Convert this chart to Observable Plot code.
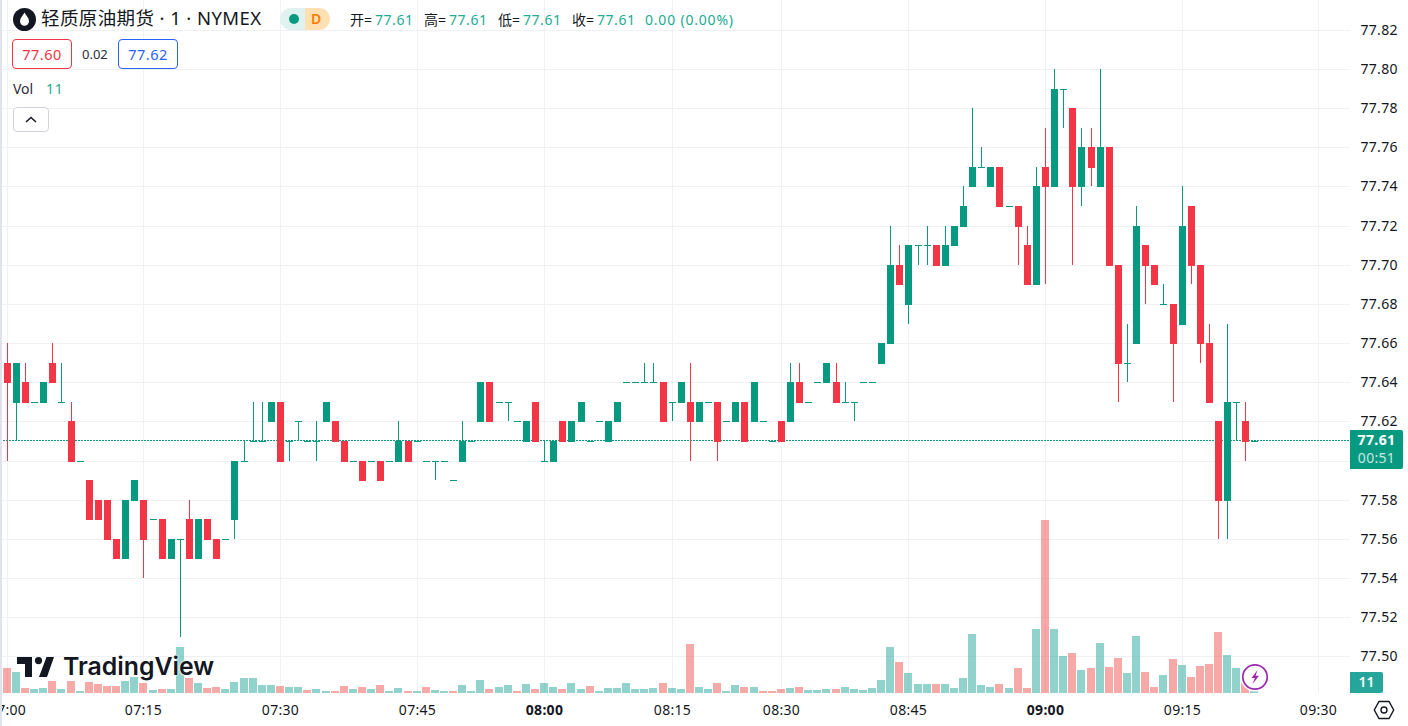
<!DOCTYPE html>
<html>
<head>
<meta charset="utf-8">
<script src="https://cdn.jsdelivr.net/npm/d3@7"></script>
<script src="https://cdn.jsdelivr.net/npm/@observablehq/plot@0.6"></script>
<style>
html,body{margin:0;padding:0;background:#fff;overflow:hidden}
#wrap{position:relative;width:1408px;height:726px;overflow:hidden;font-family:"Noto Sans","Noto Sans CJK SC",sans-serif;color:#131722}
#wrap svg.plot-layer{position:absolute;left:0;top:0}
#wrap svg.plot-layer text{letter-spacing:.3px}
.a{position:absolute;white-space:nowrap;line-height:1}
.s{letter-spacing:.55px}
.g{color:#22ab94}
.box{position:absolute;box-sizing:border-box;border-radius:4px;background:#fff;text-align:center;font-size:14.5px;letter-spacing:.5px}
</style>
</head>
<body>
<div id="wrap"></div>
<script>
const opens = [77.65,77.63,77.64,77.63,77.63,77.65,77.63,77.62,77.60,77.59,77.58,77.58,77.56,77.55,77.58,77.58,77.57,77.57,77.55,77.56,77.57,77.55,77.57,77.56,77.56,77.57,77.60,77.61,77.61,77.62,77.63,77.61,77.62,77.61,77.61,77.62,77.62,77.61,77.60,77.60,77.60,77.60,77.60,77.60,77.61,77.61,77.60,77.60,77.60,77.59,77.60,77.61,77.62,77.64,77.63,77.63,77.62,77.61,77.63,77.60,77.60,77.62,77.61,77.62,77.61,77.62,77.61,77.62,77.64,77.64,77.64,77.64,77.64,77.63,77.63,77.63,77.62,77.63,77.63,77.62,77.62,77.63,77.62,77.62,77.61,77.62,77.62,77.64,77.63,77.64,77.64,77.64,77.63,77.63,77.64,77.64,77.65,77.66,77.70,77.68,77.71,77.71,77.71,77.70,77.71,77.72,77.74,77.75,77.74,77.75,77.73,77.73,77.71,77.69,77.75,77.74,77.79,77.78,77.74,77.76,77.74,77.76,77.70,77.65,77.66,77.71,77.70,77.68,77.68,77.67,77.73,77.70,77.66,77.62,77.58,77.63,77.62,77.61];
const highs = [77.66,77.65,77.65,77.63,77.64,77.66,77.65,77.63,77.60,77.59,77.58,77.58,77.56,77.58,77.59,77.58,77.57,77.57,77.56,77.56,77.58,77.57,77.57,77.56,77.56,77.60,77.61,77.63,77.63,77.63,77.63,77.61,77.62,77.61,77.62,77.63,77.62,77.61,77.60,77.60,77.60,77.60,77.60,77.62,77.61,77.61,77.60,77.60,77.60,77.59,77.62,77.61,77.64,77.64,77.63,77.63,77.62,77.62,77.63,77.61,77.61,77.62,77.62,77.63,77.61,77.62,77.62,77.63,77.64,77.64,77.65,77.65,77.64,77.63,77.64,77.65,77.63,77.63,77.63,77.62,77.63,77.63,77.64,77.62,77.61,77.62,77.65,77.65,77.63,77.64,77.65,77.65,77.64,77.63,77.64,77.64,77.66,77.72,77.71,77.71,77.71,77.72,77.71,77.72,77.72,77.74,77.78,77.76,77.75,77.75,77.73,77.73,77.72,77.75,77.77,77.80,77.79,77.78,77.77,77.77,77.80,77.76,77.70,77.67,77.73,77.71,77.70,77.69,77.68,77.74,77.73,77.70,77.67,77.62,77.67,77.63,77.63,77.61];
const lows = [77.60,77.61,77.63,77.63,77.63,77.64,77.63,77.60,77.60,77.57,77.57,77.56,77.55,77.55,77.58,77.54,77.57,77.55,77.55,77.51,77.55,77.55,77.56,77.55,77.56,77.56,77.60,77.61,77.61,77.62,77.60,77.60,77.61,77.61,77.60,77.62,77.61,77.60,77.60,77.59,77.60,77.59,77.60,77.60,77.60,77.61,77.60,77.59,77.60,77.59,77.60,77.61,77.62,77.62,77.63,77.62,77.62,77.61,77.61,77.60,77.60,77.61,77.61,77.62,77.61,77.62,77.61,77.62,77.64,77.64,77.64,77.64,77.62,77.62,77.63,77.60,77.62,77.63,77.60,77.62,77.62,77.61,77.62,77.62,77.61,77.61,77.62,77.63,77.63,77.64,77.64,77.63,77.63,77.62,77.64,77.64,77.65,77.66,77.69,77.67,77.70,77.70,77.70,77.70,77.71,77.72,77.74,77.75,77.74,77.73,77.73,77.70,77.69,77.69,77.69,77.74,77.77,77.70,77.73,77.74,77.74,77.70,77.63,77.64,77.66,77.68,77.69,77.68,77.63,77.67,77.69,77.65,77.63,77.56,77.56,77.61,77.60,77.61];
const closes = [77.64,77.65,77.63,77.63,77.64,77.64,77.63,77.60,77.60,77.57,77.57,77.56,77.55,77.58,77.59,77.56,77.57,77.55,77.56,77.56,77.55,77.57,77.56,77.55,77.56,77.60,77.60,77.61,77.61,77.63,77.60,77.61,77.62,77.61,77.61,77.63,77.61,77.60,77.60,77.59,77.60,77.59,77.60,77.61,77.60,77.61,77.60,77.60,77.60,77.59,77.61,77.61,77.64,77.62,77.63,77.63,77.62,77.62,77.61,77.60,77.61,77.61,77.62,77.63,77.61,77.62,77.62,77.63,77.64,77.64,77.64,77.64,77.62,77.63,77.64,77.62,77.63,77.63,77.61,77.62,77.63,77.61,77.64,77.62,77.61,77.61,77.64,77.63,77.63,77.64,77.65,77.63,77.63,77.63,77.64,77.64,77.66,77.70,77.69,77.71,77.71,77.71,77.70,77.71,77.72,77.73,77.75,77.75,77.75,77.73,77.73,77.72,77.69,77.74,77.74,77.79,77.79,77.74,77.76,77.75,77.76,77.70,77.65,77.65,77.72,77.70,77.69,77.68,77.66,77.72,77.70,77.66,77.63,77.58,77.63,77.63,77.61,77.61];
const volumes = [100,84,20,16,20,48,16,48,8,44,36,28,28,48,64,40,12,16,16,184,60,40,20,24,16,44,60,60,32,32,28,24,24,12,16,8,8,28,16,24,16,32,8,20,8,8,24,12,8,8,32,8,52,16,24,32,8,36,16,40,24,16,40,16,28,8,20,20,40,16,16,20,40,20,16,196,24,16,40,8,32,24,24,8,8,16,20,24,12,12,16,16,24,16,12,20,52,184,124,80,36,36,36,36,20,60,236,32,24,36,20,100,20,256,692,256,148,160,92,100,200,104,140,80,228,84,24,72,136,112,64,108,116,244,152,100,40,11];
const redVolumeBars = [0,2,5,7,9,10,11,12,15,17,20,22,23,30,33,36,37,39,41,44,46,49,53,56,58,61,64,72,75,78,81,83,84,85,87,91,98,102,109,111,112,114,117,119,121,122,125,126,128,130,131,132,133,136];
const priceTicks = [77.50,77.52,77.54,77.56,77.58,77.60,77.62,77.64,77.66,77.68,77.70,77.72,77.74,77.76,77.78,77.80,77.82];
const priceTickHiddenByTag = 77.60;
const timeTickBars = [0,15,30,45,59,73,85,99,114,129,144];
const timeTickLabels = ["07:00","07:15","07:30","07:45","08:00","08:15","08:30","08:45","09:00","09:15","09:30"];
const boldTimeBars = [59,114];
const lastPrice = 77.61;

const GREEN="#089981", RED="#F23645", FONT='"Noto Sans","Noto Sans CJK SC",sans-serif';
const bars = opens.map((o,i)=>({i,o,h:highs[i],l:lows[i],c:closes[i],v:volumes[i],red:redVolumeBars.includes(i)}));
const xScale = {domain:[-0.7467,147.49],range:[0,1350],round:true,axis:null};
const candleColor = d => d.c>=d.o ? GREEN : RED;
const timeLabel = i => timeTickLabels[timeTickBars.indexOf(i)];
const axisCommon = {anchor:"bottom",tickSize:0,tickPadding:12,label:null,tickFormat:timeLabel,fontSize:14,fill:"#131722"};

const main = Plot.plot({
  width:1408,height:726,marginLeft:0,marginRight:58,marginTop:0,marginBottom:33,
  style:{background:"transparent",fontFamily:FONT,overflow:"hidden"},
  x:xScale,
  y:{domain:[77.4813,77.83524],range:[693,0],round:true,axis:null},
  color:{type:"identity"},
  marks:[
    Plot.gridX(timeTickBars,{stroke:"#f0f1f4",strokeOpacity:1,strokeWidth:1}),
    Plot.gridY(priceTicks,{stroke:"#f0f1f4",strokeOpacity:1,strokeWidth:1}),
    Plot.ruleY([lastPrice],{stroke:GREEN,strokeWidth:1,strokeDasharray:"2,1",dy:-1}),
    Plot.ruleX(bars,{x:"i",y1:"h",y2:"l",stroke:candleColor,strokeWidth:1}),
    Plot.ruleX(bars,{x:"i",y1:d=>Math.max(d.o,d.c),y2:d=>Math.min(d.o,d.c),insetBottom:-1,stroke:candleColor,strokeWidth:7}),
    Plot.axisY(priceTicks.filter(p=>p!==priceTickHiddenByTag),{anchor:"right",tickSize:0,tickPadding:10,label:null,tickFormat:d=>d.toFixed(2),fontSize:14,fill:"#131722"}),
    Plot.axisX(timeTickBars.filter(b=>!boldTimeBars.includes(b)),axisCommon),
    Plot.axisX(boldTimeBars,{...axisCommon,fontWeight:"bold"})
  ]
});
const vol = Plot.plot({
  width:1408,height:726,marginLeft:0,marginRight:58,marginTop:520,marginBottom:33,
  style:{background:"transparent",fontFamily:FONT},
  x:xScale,
  y:{domain:[0,692],axis:null},
  color:{type:"identity"},
  marks:[
    Plot.ruleX(bars,{x:"i",y1:0,y2:"v",dx:-0.5,stroke:d=>d.red?"#ef5350":"#26a69a",strokeOpacity:0.5,strokeWidth:8})
  ]
});
main.classList.add("plot-layer"); vol.classList.add("plot-layer");
const wrap=document.getElementById("wrap");
wrap.append(main,vol);

const overlay=document.createElement("div");
overlay.innerHTML=`
<div class="a" style="left:0;top:0;width:2px;height:726px;background:#e0e3eb"></div>

<svg class="a" style="left:13px;top:8px" width="23" height="23" viewBox="0 0 23 23"><circle cx="11.5" cy="11.5" r="11.5" fill="#131722"/><path d="M11.5 4.5C9.5 8 7 10.2 7 13.2a4.5 4.5 0 0 0 9 0C16 10.2 13.5 8 11.5 4.5z" fill="#fff"/></svg>
<div class="a" style="left:41px;top:9px;font-size:18.5px;letter-spacing:.4px">轻质原油期货 · 1 · NYMEX</div>

<div class="a" style="left:280px;top:8px;width:25px;height:22px;background:#dff2ef;border-radius:11px 0 0 11px"></div>
<div class="a" style="left:305px;top:8px;width:25px;height:22px;background:#ffe0b2;border-radius:0 11px 11px 0"></div>
<div class="a" style="left:289px;top:14px;width:10px;height:10px;border-radius:5px;background:#089981"></div>
<div class="a" style="left:311px;top:12px;font-size:14px;font-weight:600;color:#f57c00">D</div>

<div class="a" style="left:350px;top:13px;font-size:14px">开=</div><div class="a g s" style="left:375px;top:13px;font-size:14px">77.61</div>
<div class="a" style="left:424px;top:13px;font-size:14px">高=</div><div class="a g s" style="left:449px;top:13px;font-size:14px">77.61</div>
<div class="a" style="left:498px;top:13px;font-size:14px">低=</div><div class="a g s" style="left:523px;top:13px;font-size:14px">77.61</div>
<div class="a" style="left:572px;top:13px;font-size:14px">收=</div><div class="a g s" style="left:597px;top:13px;font-size:14px">77.61</div>
<div class="a g s" style="left:645px;top:13px;font-size:14px;letter-spacing:.8px">0.00 (0.00%)</div>

<div class="box" style="left:12px;top:39px;width:60px;height:30px;border:1px solid #f23645;color:#f23645;line-height:28px">77.60</div>
<div class="a" style="left:82px;top:48px;font-size:13px;color:#2a2e39">0.02</div>
<div class="box" style="left:118px;top:39px;width:60px;height:30px;border:1px solid #2962ff;color:#2962ff;line-height:28px">77.62</div>

<div class="a" style="left:13px;top:82px;font-size:14px;color:#2a2e39">Vol</div>
<div class="a g" style="left:46px;top:82px;font-size:14px;letter-spacing:.8px">11</div>
<div class="box" style="left:13px;top:107px;width:36px;height:25px;border:1px solid #d1d4dc"></div>
<svg class="a" style="left:24px;top:115px" width="14" height="9" viewBox="0 0 14 9"><path d="M2 7l5-4.5L12 7" fill="none" stroke="#131722" stroke-width="1.5"/></svg>

<svg class="a" style="left:17px;top:657px" width="37" height="20" viewBox="0 0 37 20"><path d="M15 20H8V7H0V0h15zM30 20h-8L29.5 0H37z" fill="#131722"/><circle cx="21.5" cy="3.6" r="3.6" fill="#131722"/></svg>
<div class="a" style="left:63px;top:654px;font-family:Inter,sans-serif;font-size:24.8px;font-weight:600;color:#131722;text-shadow:0 0 2px #fff,0 0 2px #fff,0 0 2px #fff">TradingView</div>

<div class="a" style="left:1350px;top:430px;width:53px;height:39px;background:#089981;border-radius:0 2px 2px 0"></div>
<div class="a" style="left:1350px;width:53px;text-align:center;top:433px;font-size:14px;font-weight:700;color:#fff;letter-spacing:.4px">77.61</div>
<div class="a" style="left:1350px;width:53px;text-align:center;top:451px;font-size:14px;color:#c5e8e2;letter-spacing:.3px">00:51</div>

<div class="a" style="left:1350px;top:672px;width:33px;height:21px;background:#26a69a;border-radius:0 2px 2px 0"></div>
<div class="a" style="left:1350px;width:33px;text-align:center;top:675px;font-size:14px;font-weight:600;color:#fff">11</div>

<svg class="a" style="left:1240px;top:662px" width="30" height="30" viewBox="0 0 30 30"><circle cx="15" cy="15" r="14.5" fill="#fff"/><circle cx="15" cy="15" r="12.2" fill="#fff" stroke="#9c27b0" stroke-width="1.7"/><path d="M17.5 8l-6 8h3.3l-2.2 6 6.4-8.3h-3.4z" fill="#9c27b0"/></svg>
<svg class="a" style="left:1373px;top:700px" width="22" height="20" viewBox="0 0 22 20"><path d="M6 1.5h10l4.7 8.5-4.7 8.5H6L1.3 10z" fill="none" stroke="#131722" stroke-width="1.4"/><circle cx="11" cy="10" r="3" fill="none" stroke="#131722" stroke-width="1.4"/></svg>
`;
wrap.append(overlay);
</script>
</body>
</html>
